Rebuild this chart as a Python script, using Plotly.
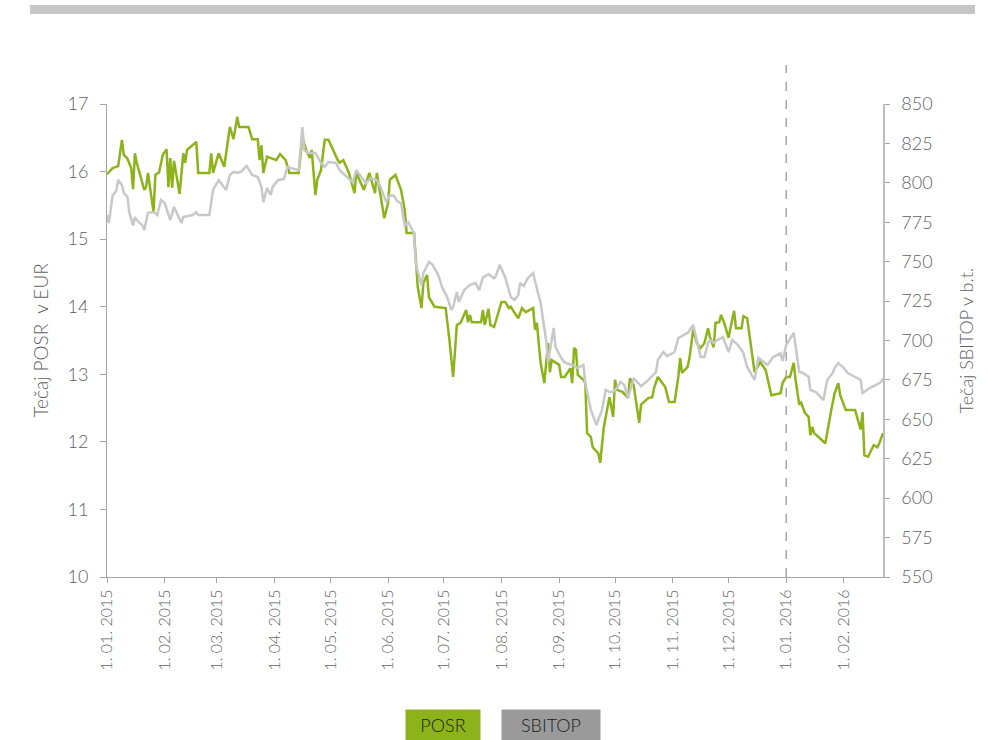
import plotly.graph_objects as go

# ---------------- data ----------------
posr_dates = [
    "2015-01-01","2015-01-04","2015-01-07","2015-01-09","2015-01-10","2015-01-12","2015-01-14","2015-01-15",
    "2015-01-16","2015-01-17","2015-01-21","2015-01-22","2015-01-23","2015-01-26","2015-01-27","2015-01-29",
    "2015-01-31","2015-02-02","2015-02-03","2015-02-04","2015-02-05","2015-02-06","2015-02-09","2015-02-11",
    "2015-02-12","2015-02-13","2015-02-18","2015-02-19","2015-02-25","2015-02-26","2015-02-27","2015-03-02",
    "2015-03-05","2015-03-08","2015-03-10","2015-03-12","2015-03-13","2015-03-18","2015-03-20","2015-03-23",
    "2015-03-24","2015-03-25","2015-03-26","2015-03-28","2015-04-02","2015-04-04","2015-04-07","2015-04-09",
    "2015-04-14","2015-04-16","2015-04-18","2015-04-20","2015-04-21","2015-04-23","2015-04-24","2015-04-26",
    "2015-04-28","2015-04-30","2015-05-05","2015-05-06","2015-05-08","2015-05-11","2015-05-14","2015-05-15",
    "2015-05-16","2015-05-19","2015-05-22","2015-05-25","2015-05-26","2015-05-30","2015-06-01","2015-06-02",
    "2015-06-05","2015-06-08","2015-06-10","2015-06-11","2015-06-15","2015-06-17","2015-06-19","2015-06-20",
    "2015-06-22","2015-06-23","2015-06-26","2015-07-02","2015-07-04","2015-07-06","2015-07-08","2015-07-10",
    "2015-07-13","2015-07-14","2015-07-15","2015-07-16","2015-07-21","2015-07-22","2015-07-23","2015-07-25",
    "2015-07-26","2015-07-28","2015-08-01","2015-08-03","2015-08-05","2015-08-06","2015-08-08","2015-08-10",
    "2015-08-12","2015-08-14","2015-08-18","2015-08-19","2015-08-20","2015-08-22","2015-08-24","2015-08-26",
    "2015-08-27","2015-08-28","2015-09-01","2015-09-02","2015-09-04","2015-09-07","2015-09-08","2015-09-09",
    "2015-09-10","2015-09-11","2015-09-14","2015-09-15","2015-09-16","2015-09-18","2015-09-19","2015-09-22",
    "2015-09-23","2015-09-25","2015-09-28","2015-09-30","2015-10-01","2015-10-02","2015-10-05","2015-10-08",
    "2015-10-09","2015-10-11","2015-10-14","2015-10-15","2015-10-19","2015-10-21","2015-10-22","2015-10-24",
    "2015-10-28","2015-10-30","2015-11-02","2015-11-04","2015-11-05","2015-11-06","2015-11-09","2015-11-10",
    "2015-11-12","2015-11-14","2015-11-16","2015-11-18","2015-11-20","2015-11-21","2015-11-23","2015-11-24",
    "2015-11-26","2015-11-27","2015-11-29","2015-12-01","2015-12-02","2015-12-04","2015-12-05","2015-12-08",
    "2015-12-09","2015-12-11","2015-12-15","2015-12-18","2015-12-21","2015-12-24","2015-12-29","2015-12-30",
    "2016-01-01","2016-01-03","2016-01-05","2016-01-06","2016-01-08","2016-01-09","2016-01-11","2016-01-13",
    "2016-01-14","2016-01-15","2016-01-16","2016-01-22","2016-01-25","2016-01-27","2016-01-29","2016-01-30",
    "2016-02-02","2016-02-07","2016-02-10","2016-02-11","2016-02-12","2016-02-14","2016-02-17","2016-02-19",
    "2016-02-20","2016-02-21","2016-02-22",
]
posr_values = [
    15.96,16.05,16.08,16.47,16.25,16.19,16.05,15.74,
    16.27,16.13,15.73,15.77,15.98,15.40,15.95,15.99,
    16.25,16.33,15.77,16.20,15.76,16.16,15.67,16.27,
    16.13,16.32,16.44,15.98,15.98,16.27,15.98,16.27,
    16.07,16.66,16.48,16.81,16.66,16.66,16.48,16.48,
    16.17,16.39,15.98,16.22,16.17,16.26,16.17,15.98,
    15.98,16.51,16.32,16.20,16.32,15.65,15.88,16.02,
    16.47,16.47,16.17,16.13,16.17,15.98,15.68,15.99,
    15.92,15.73,15.98,15.68,15.98,15.31,15.53,15.88,
    15.95,15.73,15.43,15.09,15.09,14.29,13.98,14.35,
    14.47,14.14,14.00,13.98,13.51,12.96,13.73,13.76,
    13.95,13.77,13.88,13.77,13.77,13.95,13.73,13.97,
    13.73,13.70,14.07,14.07,13.98,14.00,13.91,13.83,
    13.98,13.92,13.98,13.66,13.76,13.17,12.87,13.46,
    13.03,13.21,13.14,12.96,12.96,13.09,12.87,13.39,
    13.36,12.99,12.92,12.87,12.13,12.07,11.92,11.83,
    11.69,12.22,12.66,12.37,12.92,12.77,12.74,12.65,
    12.94,12.84,12.28,12.55,12.65,12.66,12.80,12.96,
    12.81,12.59,12.59,12.96,13.24,13.02,13.11,13.24,
    13.66,13.46,13.39,13.46,13.68,13.55,13.40,13.76,
    13.77,13.88,13.73,13.54,13.68,13.94,13.68,13.68,
    13.86,13.83,13.03,13.18,13.06,12.69,12.72,12.87,
    12.96,12.96,13.17,12.92,12.55,12.58,12.43,12.37,
    12.10,12.22,12.13,11.98,12.44,12.72,12.87,12.69,
    12.47,12.47,12.18,12.44,11.80,11.78,11.95,11.92,
    11.98,12.06,12.13,
]

sbitop_dates = [
    "2015-01-01","2015-01-02","2015-01-04","2015-01-06","2015-01-07","2015-01-09","2015-01-10","2015-01-12",
    "2015-01-13","2015-01-15","2015-01-16","2015-01-17","2015-01-20","2015-01-21","2015-01-23","2015-01-26",
    "2015-01-28","2015-01-30","2015-02-01","2015-02-04","2015-02-06","2015-02-10","2015-02-11","2015-02-16",
    "2015-02-18","2015-02-19","2015-02-25","2015-02-27","2015-03-02","2015-03-06","2015-03-08","2015-03-10",
    "2015-03-12","2015-03-14","2015-03-17","2015-03-20","2015-03-23","2015-03-25","2015-03-26","2015-03-28",
    "2015-03-30","2015-03-31","2015-04-03","2015-04-06","2015-04-08","2015-04-11","2015-04-14","2015-04-16",
    "2015-04-17","2015-04-19","2015-04-23","2015-04-26","2015-04-28","2015-04-30","2015-05-04","2015-05-06",
    "2015-05-10","2015-05-13","2015-05-15","2015-05-17","2015-05-20","2015-05-23","2015-05-26","2015-05-28",
    "2015-05-31","2015-06-02","2015-06-04","2015-06-06","2015-06-08","2015-06-10","2015-06-12","2015-06-15",
    "2015-06-16","2015-06-19","2015-06-20","2015-06-23","2015-06-25","2015-06-28","2015-06-30","2015-07-03",
    "2015-07-05","2015-07-06","2015-07-08","2015-07-09","2015-07-12","2015-07-15","2015-07-18","2015-07-20",
    "2015-07-22","2015-07-25","2015-07-28","2015-07-29","2015-07-31","2015-08-03","2015-08-06","2015-08-08",
    "2015-08-10","2015-08-11","2015-08-13","2015-08-15","2015-08-18","2015-08-20","2015-08-22","2015-08-25",
    "2015-08-26","2015-08-29","2015-08-30","2015-09-02","2015-09-04","2015-09-08","2015-09-11","2015-09-14",
    "2015-09-15","2015-09-18","2015-09-21","2015-09-24","2015-09-26","2015-09-28","2015-09-30","2015-10-02",
    "2015-10-04","2015-10-06","2015-10-08","2015-10-11","2015-10-13","2015-10-15","2015-10-19","2015-10-21",
    "2015-10-23","2015-10-24","2015-10-27","2015-10-29","2015-11-02","2015-11-04","2015-11-05","2015-11-09",
    "2015-11-12","2015-11-14","2015-11-16","2015-11-18","2015-11-20","2015-11-21","2015-11-23","2015-11-25",
    "2015-11-28","2015-12-01","2015-12-03","2015-12-06","2015-12-09","2015-12-11","2015-12-15","2015-12-17",
    "2015-12-20","2015-12-22","2015-12-25","2015-12-29","2015-12-30","2016-01-01","2016-01-05","2016-01-06",
    "2016-01-08","2016-01-10","2016-01-13","2016-01-14","2016-01-17","2016-01-20","2016-01-21","2016-01-23",
    "2016-01-26","2016-01-27","2016-01-29","2016-02-01","2016-02-03","2016-02-06","2016-02-10","2016-02-11",
    "2016-02-15","2016-02-18","2016-02-21","2016-02-22",
]
sbitop_values = [
    779.6,774.5,792.0,795.0,801.8,798.6,793.6,791.0,
    781.0,773.0,778.3,776.4,773.0,770.0,781.0,781.5,
    779.6,789.1,787.2,776.4,784.7,774.5,778.3,779.6,
    781.5,779.6,779.6,795.5,801.8,795.5,805.0,807.0,
    806.4,807.0,810.7,805.0,803.7,797.4,787.8,796.7,
    792.3,797.4,801.8,802.4,810.0,808.8,808.0,835.4,
    820.8,818.9,819.0,812.6,810.1,813.2,812.6,808.0,
    803.7,800.5,808.0,805.0,800.0,803.0,801.8,797.4,
    787.8,792.0,792.0,788.5,787.0,773.0,774.9,768.0,
    748.0,735.2,742.8,749.8,748.0,741.6,734.0,727.0,
    719.3,721.2,730.8,724.5,732.0,735.2,736.5,732.0,
    740.0,742.0,739.5,740.9,748.0,740.0,727.6,725.7,
    728.9,736.5,734.5,739.5,742.8,733.0,723.8,700.0,
    686.0,708.0,696.0,689.0,686.0,684.5,682.5,684.5,
    673.0,656.0,646.4,656.0,668.6,667.3,667.3,670.0,
    673.7,671.7,663.5,676.2,673.7,671.0,675.0,677.5,
    680.0,687.6,692.7,690.1,692.7,701.6,702.2,704.8,
    709.8,700.0,689.5,689.5,698.4,700.3,698.4,700.3,
    702.2,692.7,700.3,697.2,692.0,683.2,675.0,689.0,
    686.4,684.5,689.5,692.0,687.0,697.2,704.8,697.2,
    680.0,679.4,677.0,668.6,667.3,663.5,662.2,675.0,
    679.4,682.5,685.7,682.5,679.4,677.5,675.0,666.7,
    670.0,671.7,673.7,676.2,
]

month_ticks = [
    "2015-01-01","2015-02-01","2015-03-01","2015-04-01","2015-05-01","2015-06-01","2015-07-01",
    "2015-08-01","2015-09-01","2015-10-01","2015-11-01","2015-12-01","2016-01-01","2016-02-01",
]
month_labels = [
    "1. 01. 2015","1. 02. 2015","1. 03. 2015","1. 04. 2015","1. 05. 2015","1. 06. 2015","1. 07. 2015",
    "1. 08. 2015","1. 09. 2015","1. 10. 2015","1. 11. 2015","1. 12. 2015","1. 01. 2016","1. 02. 2016",
]
x_range = ["2015-01-01", "2016-02-22"]
marker_date = "2016-01-01"

GREEN = "#8db31b"
GRAY_LINE = "#c8c8c8"
GRAY_BOX = "#9a9a9a"
AXIS = "#a6a6a6"
TXT = "#5f5f5f"
FONT = "Lato"
W = 300

fig = go.Figure()
fig.add_trace(go.Scatter(x=sbitop_dates, y=sbitop_values, mode="lines", name="SBITOP",
                         line=dict(color=GRAY_LINE, width=2.5), yaxis="y2"))
fig.add_trace(go.Scatter(x=posr_dates, y=posr_values, mode="lines", name="POSR",
                         line=dict(color=GREEN, width=2.5), yaxis="y"))

fig.update_layout(
    width=988, height=740,
    margin=dict(l=107, r=105, t=104, b=163),
    paper_bgcolor="white", plot_bgcolor="white",
    showlegend=False,
    font=dict(family=FONT, color=TXT, weight=W),
    xaxis=dict(
        type="date", range=x_range,
        tickmode="array", tickvals=month_ticks, ticktext=month_labels,
        tickangle=-90, tickfont=dict(size=16, color=TXT, weight=W),
        showgrid=False, zeroline=False,
        showline=True, linecolor=AXIS, linewidth=1,
        ticks="outside", ticklen=5, tickcolor=AXIS,
    ),
    yaxis=dict(
        range=[10, 17], dtick=1, tick0=10,
        tickfont=dict(size=18, color=TXT, weight=W),
        showgrid=False, zeroline=False,
        showline=True, linecolor=AXIS, linewidth=1,
        ticks="outside", ticklen=6, tickcolor=AXIS,
        ticklabelstandoff=8,
    ),
    yaxis2=dict(
        range=[550, 850], dtick=25, tick0=550,
        overlaying="y", side="right",
        tickfont=dict(size=18, color=TXT, weight=W),
        showgrid=False, zeroline=False,
        showline=True, linecolor="#bdbdbd", linewidth=1.5,
        ticks="outside", ticklen=5, tickcolor=AXIS,
        ticklabelstandoff=8,
    ),
)

# dashed marker line at 1. 01. 2016
fig.add_shape(type="line", xref="x", yref="paper", x0=marker_date, x1=marker_date,
              y0=0, y1=1.0825, line=dict(color="#a6a6a6", width=1.5, dash="dash"))

# top decorative bar
fig.add_shape(type="rect", xref="paper", yref="paper", x0=-0.0992, x1=1.1186,
              y0=1.1903, y1=1.2093, line=dict(width=0), fillcolor="#c6c6c6")

# axis titles
fig.add_annotation(text="Tečaj POSR  v EUR", xref="paper", yref="paper", x=-0.0863, y=0.5,
                   xanchor="center", yanchor="middle",
                   textangle=-90, showarrow=False, font=dict(size=19, color=TXT, family=FONT, weight=W))
fig.add_annotation(text="Tečaj SBITOP v b.t.", xref="paper", yref="paper", x=1.1057, y=0.5,
                   xanchor="center", yanchor="middle",
                   textangle=-90, showarrow=False, font=dict(size=18, color=TXT, family=FONT, weight=W))

# legend boxes
fig.add_annotation(text="POSR", xref="paper", yref="paper", x=0.433, y=-0.3129,
                   xanchor="center", yanchor="middle",
                   width=72, height=28, bgcolor=GREEN, showarrow=False,
                   font=dict(size=18, color="#1a1a1a", family=FONT, weight=W))
fig.add_annotation(text="SBITOP", xref="paper", yref="paper", x=0.5725, y=-0.3129,
                   xanchor="center", yanchor="middle",
                   width=96, height=28, bgcolor=GRAY_BOX, showarrow=False,
                   font=dict(size=18, color="#1a1a1a", family=FONT, weight=W))

fig.write_html("out.html")
